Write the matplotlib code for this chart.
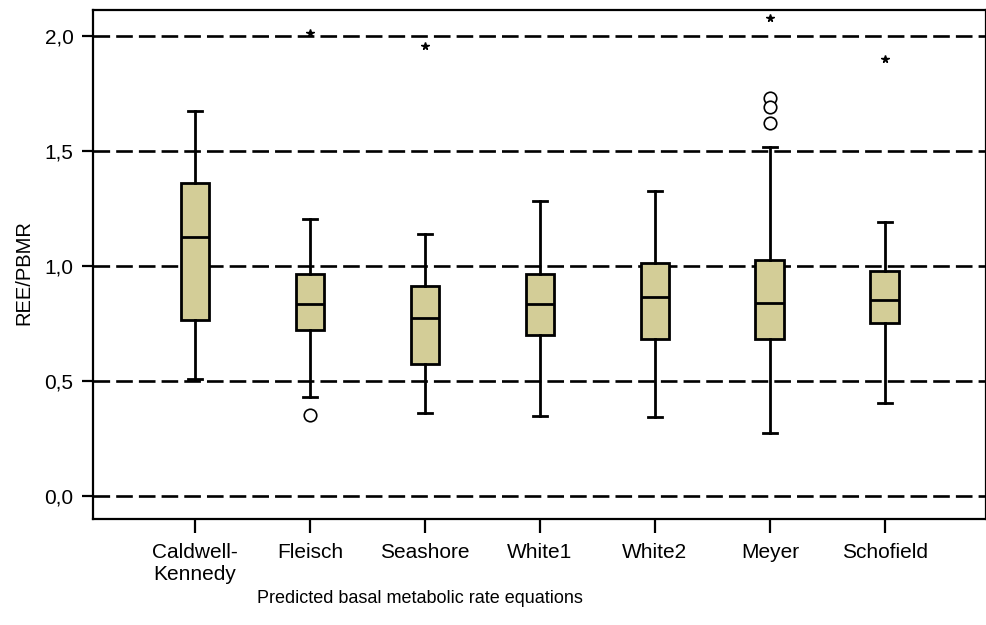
import matplotlib
matplotlib.use("Agg")
import matplotlib.pyplot as plt

plt.rcParams['font.family'] = ['Liberation Sans', 'DejaVu Sans']

# values
labels = ['Caldwell-\nKennedy', 'Fleisch', 'Seashore', 'White1', 'White2', 'Meyer', 'Schofield']
whislo = [0.508, 0.430, 0.363, 0.346, 0.343, 0.275, 0.406]
q1 = [0.766, 0.720, 0.575, 0.699, 0.682, 0.682, 0.751]
med = [1.128, 0.833, 0.776, 0.833, 0.867, 0.841, 0.853]
q3 = [1.359, 0.966, 0.911, 0.966, 1.014, 1.027, 0.980]
whishi = [1.676, 1.203, 1.141, 1.283, 1.328, 1.518, 1.193]
outliers = [[], [0.350], [], [], [], [1.731, 1.690, 1.623], []]
extremes = [[], [2.015], [1.956], [], [], [2.080], [1.902]]

stats = []
for i in range(len(labels)):
    stats.append({'whislo': whislo[i], 'q1': q1[i], 'med': med[i],
                  'q3': q3[i], 'whishi': whishi[i], 'fliers': outliers[i]})

fig = plt.figure(figsize=(9.87, 6.25), dpi=100)
ax = fig.add_axes([93/987, 106/625, 893/987, 509/625])

for v in [0, 0.5, 1.0, 1.5, 2.0]:
    ax.axhline(v, color='black', lw=1.9, dashes=(6.3, 2.3), zorder=1)

pos = list(range(1, len(labels) + 1))
ax.bxp(stats, positions=pos, widths=0.25, capwidths=0.12, patch_artist=True,
       boxprops=dict(facecolor='#d3cd97', edgecolor='black', lw=2.0),
       medianprops=dict(color='black', lw=2.0),
       whiskerprops=dict(color='black', lw=2.0),
       capprops=dict(color='black', lw=2.0),
       flierprops=dict(marker='o', markerfacecolor='white', markeredgecolor='black',
                       markersize=9, markeredgewidth=1.2),
       zorder=3)

for i in range(len(labels)):
    if extremes[i]:
        ax.plot([pos[i]] * len(extremes[i]), extremes[i], ls='none', marker='*',
                color='black', markersize=5.5, zorder=4)

ax.set_xlim(0.113, 7.88)
ax.set_ylim(-0.1, 2.113)
ax.set_yticks([0, 0.5, 1.0, 1.5, 2.0])
ax.set_yticklabels(['0,0', '0,5', '1,0', '1,5', '2,0'])
ax.set_xticks(pos)
ax.set_xticklabels(labels, linespacing=1.25)

for s in ax.spines.values():
    s.set_linewidth(1.6)
ax.tick_params(axis='y', length=8, width=1.6, pad=6, labelsize=15)
ax.tick_params(axis='x', length=10, width=1.6, pad=7, labelsize=15)

ax.set_ylabel('REE/PBMR', fontsize=14.5)
ax.yaxis.set_label_coords(-0.067, 0.485)
ax.set_xlabel('Predicted basal metabolic rate equations', fontsize=13)
ax.xaxis.set_label_coords(0.366, -0.14)

fig.savefig('out.png', dpi=100)
